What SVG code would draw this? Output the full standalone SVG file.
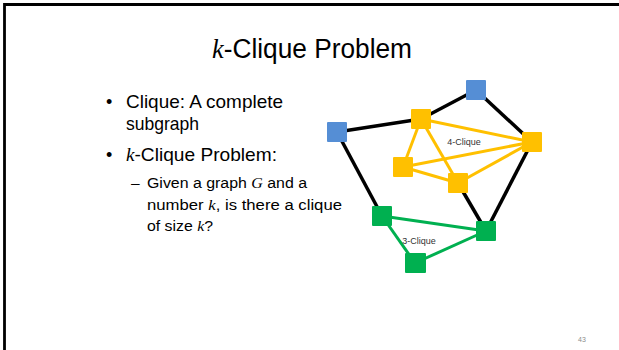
<svg xmlns="http://www.w3.org/2000/svg" width="619" height="350" viewBox="0 0 619 350">
<style>
.t{font-family:"Liberation Sans",Arial,sans-serif;fill:#000}
.m{font-family:"Liberation Serif","Times New Roman",serif;font-style:italic}
.lbl{font-family:"Liberation Sans",Arial,sans-serif;font-size:9px;fill:#333;text-anchor:middle}
.blk{stroke:#000;stroke-width:3.5;fill:none}
.yel{stroke:#FFC000;stroke-width:3;fill:none}
.grn{stroke:#00B050;stroke-width:3;fill:none}
.nb{fill:#558ED5}
.ny{fill:#FFC000}
.ng{fill:#00B050}
</style>
<rect width="619" height="350" fill="#fff"/>
<path d="M4.5 350 V4.5 H619" stroke="#000" stroke-width="2.8" fill="none"/>
<text class="t" x="212" y="58" font-size="27" textLength="200" lengthAdjust="spacingAndGlyphs"><tspan class="m">k</tspan>-Clique Problem</text>
<text class="t" x="106" y="108" font-size="18">•</text>
<text class="t" x="126" y="108" font-size="18.5" textLength="157" lengthAdjust="spacingAndGlyphs">Clique: A complete</text>
<text class="t" x="126" y="130" font-size="18.5" textLength="73" lengthAdjust="spacingAndGlyphs">subgraph</text>
<text class="t" x="106" y="161" font-size="18">•</text>
<text class="t" x="126" y="161" font-size="18.5" textLength="151" lengthAdjust="spacingAndGlyphs"><tspan class="m">k</tspan>-Clique Problem:</text>
<text class="t" x="131" y="188" font-size="15.5">–</text>
<text class="t" x="147" y="188" font-size="15.5" textLength="160" lengthAdjust="spacingAndGlyphs">Given a graph <tspan class="m">G</tspan> and a</text>
<text class="t" x="147" y="209.5" font-size="15.5" textLength="195" lengthAdjust="spacingAndGlyphs">number <tspan class="m">k</tspan>, is there a clique</text>
<text class="t" x="147" y="231" font-size="15.5" textLength="66" lengthAdjust="spacingAndGlyphs">of size <tspan class="m">k</tspan>?</text>
<g id="connectors">
<line class="blk" x1="337" y1="132" x2="421" y2="119"/>
<line class="blk" x1="421" y1="119" x2="476" y2="90"/>
<line class="blk" x1="476" y1="90" x2="532" y2="142"/>
<line class="blk" x1="532" y1="142" x2="486" y2="231"/>
<line class="blk" x1="486" y1="231" x2="458" y2="183"/>
<line class="blk" x1="337" y1="132" x2="382" y2="216"/>
<line class="yel" x1="421" y1="119" x2="532" y2="142"/>
<line class="yel" x1="421" y1="119" x2="403" y2="167"/>
<line class="yel" x1="421" y1="119" x2="458" y2="183"/>
<line class="yel" x1="403" y1="167" x2="532" y2="142"/>
<line class="yel" x1="403" y1="167" x2="458" y2="183"/>
<line class="yel" x1="458" y1="183" x2="532" y2="142"/>
<line class="grn" x1="382" y1="216" x2="486" y2="231"/>
<line class="grn" x1="382" y1="216" x2="415" y2="263"/>
<line class="grn" x1="415" y1="263" x2="486" y2="231"/>
</g>
<g id="n-blue-top"><rect class="nb" x="466" y="80" width="20" height="20" rx="1"/></g>
<g id="n-blue-left"><rect class="nb" x="327" y="122" width="20" height="20" rx="1"/></g>
<g id="n-y-top"><rect class="ny" x="411" y="109" width="20" height="20" rx="1"/></g>
<g id="n-y-right"><rect class="ny" x="522" y="132" width="20" height="20" rx="1"/></g>
<g id="n-y-left"><rect class="ny" x="393" y="157" width="20" height="20" rx="1"/></g>
<g id="n-y-bottom"><rect class="ny" x="448" y="173" width="20" height="20" rx="1"/></g>
<g id="n-g-left"><rect class="ng" x="372" y="206" width="20" height="20" rx="1"/></g>
<g id="n-g-right"><rect class="ng" x="476" y="221" width="20" height="20" rx="1"/></g>
<g id="n-g-bottom"><rect class="ng" x="405" y="253" width="21" height="20" rx="1"/></g>
<text class="lbl" x="464" y="145">4-Clique</text>
<text class="lbl" x="419" y="244">3-Clique</text>
<text x="582" y="342" font-family="Liberation Sans,Arial,sans-serif" font-size="7" fill="#8c8c8c" text-anchor="middle">43</text>
</svg>
